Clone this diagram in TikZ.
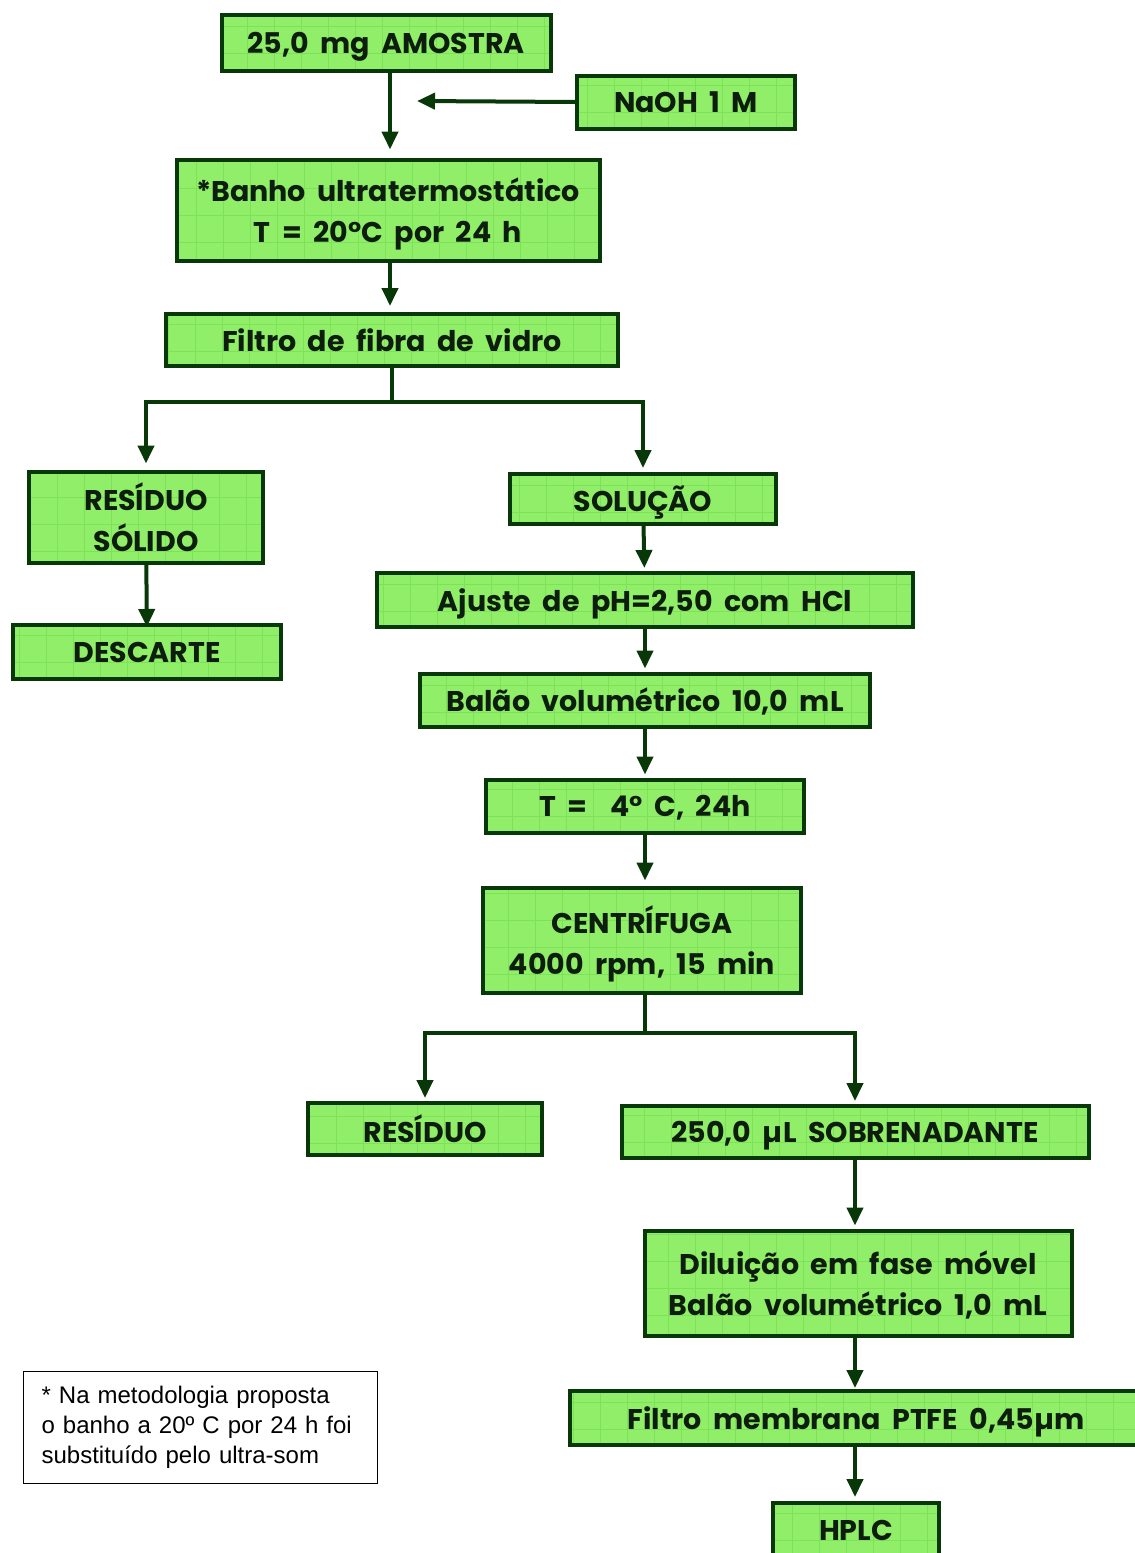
\documentclass[tikz,border=0pt]{standalone}
\usepackage{fontspec}
\setmainfont{Liberation Sans}
\newfontfamily\comica{Poppins}[WordSpace=1.9]
\usetikzlibrary{arrows.meta}

\definecolor{verdeclaro}{RGB}{144,238,104}
\definecolor{verdegrade}{RGB}{124,226,88}
\definecolor{verdeesc}{RGB}{8,56,8}
\definecolor{textoesc}{RGB}{14,30,14}

\tikzset{
  etapa/.style={draw=verdeesc, line width=4pt, fill=verdeclaro, text=textoesc,
    align=center, inner sep=0pt, text depth=0pt,
    font=\comica\bfseries\fontsize{28.5}{41}\selectfont,
    path picture={\draw[verdegrade, line width=0.6pt]
      (path picture bounding box.south west) grid[step=27pt]
      (path picture bounding box.north east);}},
  seta/.style={draw=verdeesc, line width=4pt, -{Triangle[width=16pt,length=18pt]}},
  nota/.style={draw=black, line width=1.2pt, align=left, inner xsep=18pt,
    text width=318pt, minimum height=112pt,
    font=\fontsize{24}{30}\selectfont},
}

\begin{document}
\begin{tikzpicture}[x=1pt, y=-1pt]
\useasboundingbox (0,0) rectangle (1135,1553);
%Coluna de cima
\node[etapa, minimum width=329pt, minimum height=56pt] (amostra) at (386,43) {25,0 mg AMOSTRA};
\node[etapa, minimum width=218pt, minimum height=53pt] (naoh) at (686,102) {NaOH 1 M};
\node[etapa, minimum width=423pt, minimum height=101pt] (banho) at (388,210) {*Banho ultratermostático\\T = 20°C por 24 h};
\node[etapa, minimum width=452pt, minimum height=52pt] (filtro) at (392,340) {Filtro de fibra de vidro};
\coordinate (entrada) at (417,101);
%Ramo do filtro
\node[etapa, minimum width=234pt, minimum height=91pt] (solido) at (146,517) {RESÍDUO\\SÓLIDO};
\node[etapa, minimum width=268pt, minimum height=54pt] (descarte) at (147,652) {DESCARTE};
\node[etapa, minimum width=266pt, minimum height=50pt] (solucao) at (643,499) {SOLUÇÃO};
\node[etapa, minimum width=536pt, minimum height=54pt] (ajuste) at (645,600) {Ajuste de pH=2,50 com HCl};
\node[etapa, minimum width=450pt, minimum height=53pt] (balao) at (645,700) {Balão volumétrico 10,0 mL};
\node[etapa, minimum width=318pt, minimum height=53pt] (temp) at (645,806) {T = \ 4° C, 24h};
\node[etapa, minimum width=318pt, minimum height=105pt] (centrifuga) at (642,940) {CENTRÍFUGA\\4000 rpm, 15 min};
%Ramo da centrifuga
\node[etapa, minimum width=234pt, minimum height=52pt] (residuo) at (425,1129) {RESÍDUO};
\node[etapa, minimum width=467pt, minimum height=52pt] (sobrenadante) at (855,1132) {250,0 µL SOBRENADANTE};
\node[etapa, minimum width=427pt, minimum height=105pt] (diluicao) at (858,1283) {Diluição em fase móvel\\Balão volumétrico 1,0 mL};
\node[etapa, minimum width=572pt, minimum height=54pt] (membrana) at (856,1418) {Filtro membrana PTFE 0,45µm};
\node[etapa, minimum width=166pt, minimum height=54pt] (hplc) at (856,1530) {HPLC};
\node[nota, anchor=north west] (obs) at (23,1371) {* Na metodologia proposta\\o banho a 20º C por 24 h foi\\substituído pelo ultra-som};

\draw[seta, shorten >=8pt] (amostra.south -| entrada) ++(-27,0) coordinate (topo) -- (topo |- banho.north);
\draw[seta] (naoh.west) -- (entrada);
\draw[seta, shorten >=6pt] (banho.south -| topo) -- (filtro.north -| topo);
\draw[seta, shorten >=6pt] (filtro.south) -- ++(0,34) -| (solido.north);
\draw[seta, shorten >=4pt] (filtro.south) -- ++(0,34) -| (solucao.north);
\draw[seta, shorten >=-4pt] (solido) -- (descarte);
\draw[seta, shorten >=3pt] (solucao) -- (ajuste);
\draw[seta, shorten >=3pt] (ajuste) -- (balao);
\draw[seta, shorten >=3pt] (balao.south -| temp.north) -- (temp.north);
\draw[seta, shorten >=5pt] (temp.south) -- (temp.south |- centrifuga.north);
\draw[seta, shorten >=3pt] (centrifuga.south -| temp.south) -- ++(0,38) -| (residuo.north);
\draw[seta, shorten >=3pt] (centrifuga.south -| temp.south) -- ++(0,38) -| (sobrenadante.north);
\draw[seta, shorten >=3pt] (sobrenadante) -- (sobrenadante |- diluicao.north);
\draw[seta, shorten >=1pt] (diluicao.south -| sobrenadante) -- (sobrenadante |- membrana.north);
\draw[seta, shorten >=4pt] (membrana.south -| sobrenadante) -- (sobrenadante |- hplc.north);
\end{tikzpicture}
\end{document}
